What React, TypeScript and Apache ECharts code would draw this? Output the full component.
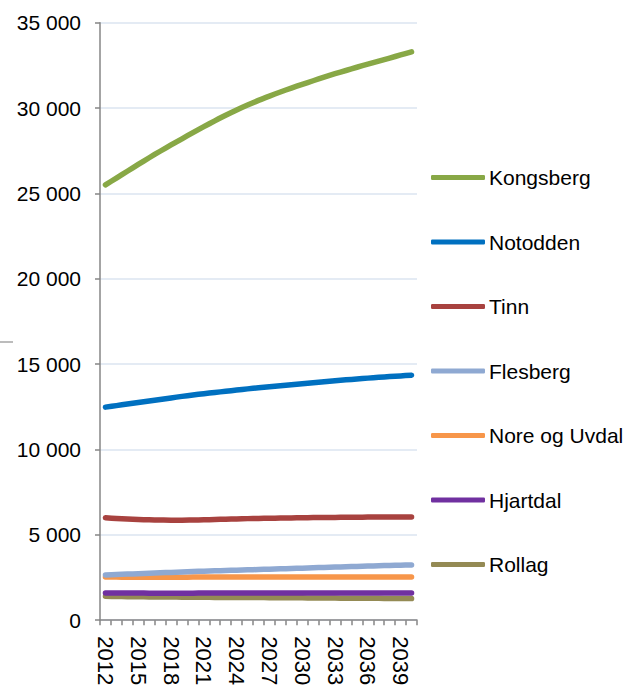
import React, { useEffect, useRef } from "react";
import * as echarts from "echarts";

const years = [
  "2012", "2013", "2014", "2015", "2016", "2017", "2018", "2019", "2020", "2021",
  "2022", "2023", "2024", "2025", "2026", "2027", "2028", "2029", "2030", "2031",
  "2032", "2033", "2034", "2035", "2036", "2037", "2038", "2039", "2040",
];

const kongsberg = [
  25500, 25900, 26300, 26700, 27090, 27470, 27840, 28200, 28560, 28910,
  29250, 29580, 29890, 30180, 30450, 30700, 30940, 31170, 31390, 31600,
  31810, 32010, 32200, 32390, 32570, 32750, 32930, 33110, 33290,
];
const notodden = [
  12480, 12570, 12660, 12750, 12840, 12930, 13020, 13110, 13190, 13270,
  13340, 13410, 13480, 13550, 13610, 13670, 13730, 13790, 13850, 13910,
  13970, 14030, 14080, 14130, 14180, 14230, 14270, 14310, 14350,
];
const tinn = [
  6000, 5960, 5930, 5900, 5880, 5870, 5860, 5860, 5870, 5880,
  5900, 5920, 5930, 5950, 5960, 5970, 5980, 5990, 6000, 6010,
  6020, 6020, 6030, 6030, 6040, 6040, 6050, 6050, 6050,
];
const flesberg = [
  2650, 2675, 2700, 2725, 2750, 2775, 2800, 2825, 2850, 2870,
  2890, 2910, 2930, 2950, 2970, 2990, 3010, 3030, 3050, 3070,
  3090, 3110, 3130, 3150, 3170, 3190, 3210, 3225, 3240,
];
const noreOgUvdal = [
  2530, 2525, 2520, 2520, 2515, 2515, 2520, 2520, 2525, 2525,
  2530, 2530, 2530, 2525, 2525, 2530, 2530, 2535, 2530, 2530,
  2525, 2530, 2535, 2530, 2525, 2530, 2530, 2525, 2530,
];
const hjartdal = [
  1600, 1595, 1590, 1590, 1585, 1585, 1585, 1585, 1585, 1590,
  1590, 1590, 1590, 1590, 1595, 1595, 1595, 1590, 1590, 1590,
  1590, 1595, 1595, 1595, 1595, 1595, 1590, 1590, 1590,
];
const rollag = [
  1400, 1390, 1380, 1370, 1365, 1360, 1355, 1350, 1345, 1340,
  1335, 1330, 1330, 1325, 1325, 1320, 1320, 1315, 1310, 1305,
  1300, 1295, 1290, 1285, 1280, 1280, 1275, 1270, 1265,
];

const seriesNames = [
  "Kongsberg", "Notodden", "Tinn", "Flesberg", "Nore og Uvdal", "Hjartdal", "Rollag",
];
const seriesData = [kongsberg, notodden, tinn, flesberg, noreOgUvdal, hjartdal, rollag];
const seriesColors = [
  "#88a846", "#0070c0", "#a8423f", "#8fa9d2", "#f7964a", "#7030a0", "#948a54",
];

const FONT = "'Liberation Sans', Arial, sans-serif";

export default function App() {
  const ref = useRef<HTMLDivElement>(null);

  useEffect(() => {
    if (!ref.current) return;
    const chart = echarts.init(ref.current, undefined, { renderer: "svg" });
    chart.setOption({
      animation: false,
      backgroundColor: "#ffffff",
      textStyle: { fontFamily: FONT },
      grid: { left: 100, top: 22.7, width: 317, height: 597.5, containLabel: false },
      legend: {
        orient: "vertical",
        left: 431,
        top: 167,
        padding: 0,
        itemWidth: 54,
        itemHeight: 5,
        itemGap: 43.5,
        icon: "roundRect",
        data: seriesNames,
        textStyle: { fontFamily: FONT, fontSize: 21, color: "#000", lineHeight: 20, padding: [0, 0, 0, -1] },
      },
      xAxis: {
        type: "category",
        data: years,
        boundaryGap: true,
        axisLine: { lineStyle: { color: "#868686", width: 1.5 } },
        axisTick: { show: true, interval: 0, length: 5, lineStyle: { color: "#868686", width: 1.5 } },
        axisLabel: {
          interval: 2,
          rotate: -90,
          margin: 16,
          fontSize: 22,
          color: "#000",
          fontFamily: FONT,
        },
        splitLine: { show: false },
      },
      yAxis: {
        type: "value",
        min: 0,
        max: 35000,
        interval: 5000,
        axisLine: { show: true, lineStyle: { color: "#868686", width: 1.5 } },
        axisTick: { show: true, length: 5, lineStyle: { color: "#868686", width: 1.5 } },
        axisLabel: {
          margin: 19,
          fontSize: 21,
          color: "#000",
          fontFamily: FONT,
          formatter: (v: number) => String(v).replace(/\B(?=(\d{3})+(?!\d))/g, " "),
        },
        splitLine: { show: true, lineStyle: { color: "#dbe5f1", width: 1.5 } },
      },
      series: seriesNames.map((name, i) => ({
        name,
        type: "line",
        data: seriesData[i],
        symbol: "none",
        smooth: 0.3,
        color: seriesColors[i],
        lineStyle: { width: 5.5, color: seriesColors[i], cap: "round", join: "round" },
        itemStyle: { color: seriesColors[i] },
        z: 10 - i,
      })),
      graphic: [
        {
          type: "line",
          shape: { x1: 0, y1: 342, x2: 13, y2: 342 },
          style: { stroke: "#a6a6a6", lineWidth: 1.5 },
        },
      ],
    });
    return () => chart.dispose();
  }, []);

  return (
    <div
      ref={ref}
      style={{ position: "fixed", left: 0, top: 0, width: 637, height: 697 }}
    />
  );
}
